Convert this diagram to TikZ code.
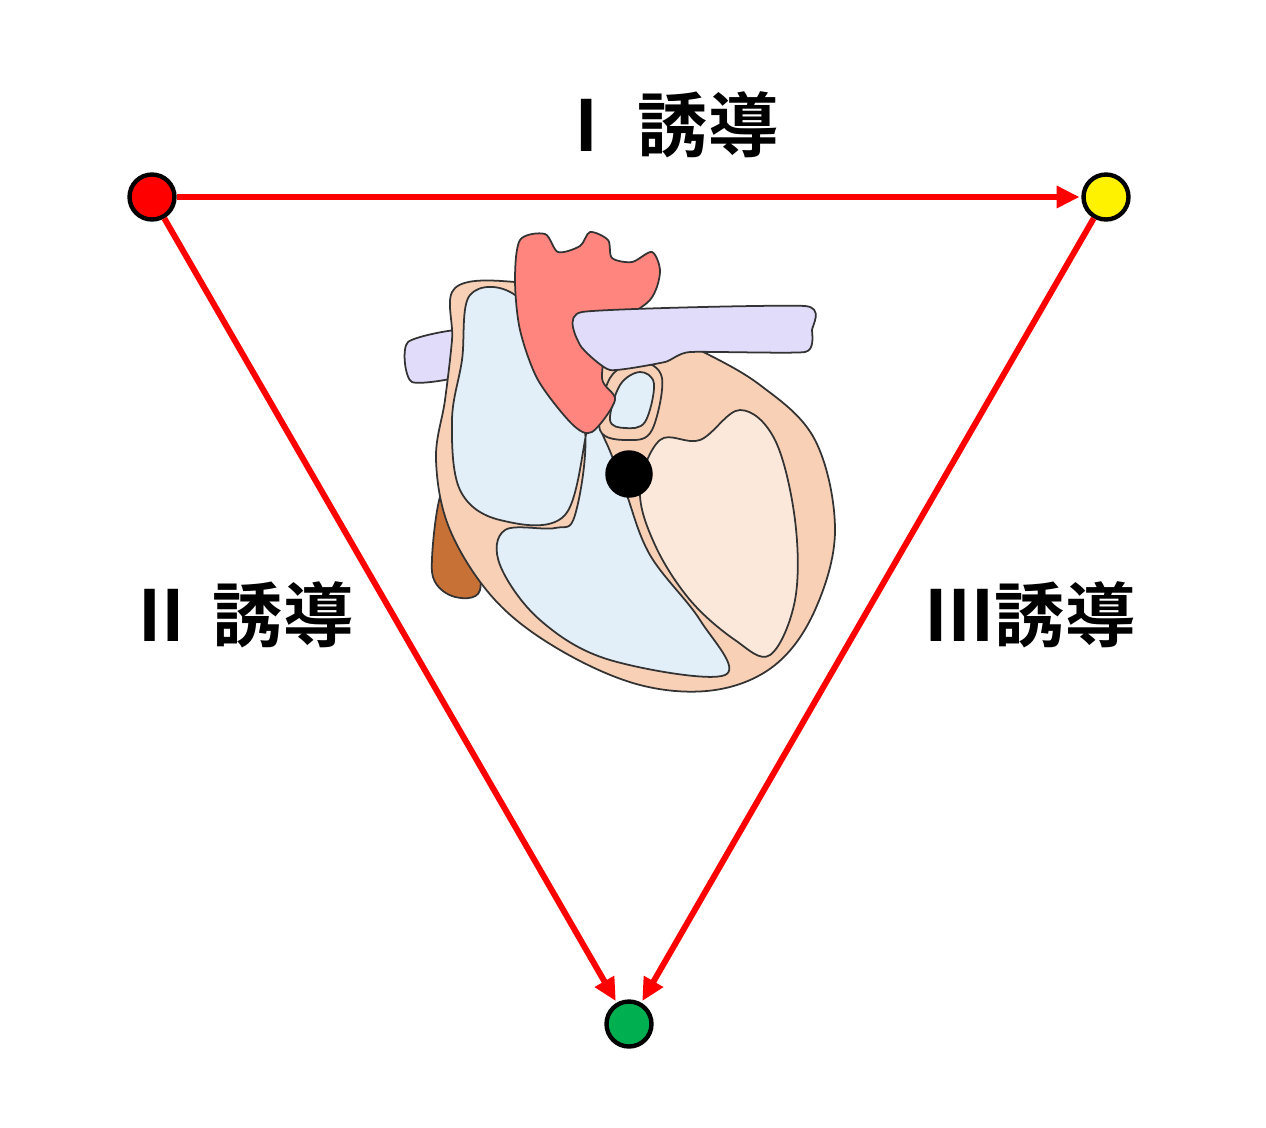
\documentclass[tikz,border=0pt]{standalone}
\usepackage{fontspec}
\newfontfamily\cjk{Noto Sans CJK JP}[BoldFont={* Bold}]
\usetikzlibrary{arrows.meta, positioning}

\definecolor{wall}{HTML}{F8D0B6}
\definecolor{rside}{HTML}{E2EEF8}
\definecolor{lside}{HTML}{FBE8DA}
\definecolor{aorta}{HTML}{FF857E}
\definecolor{pulm}{HTML}{E0DCFA}
\definecolor{vena}{HTML}{C87137}
\definecolor{elecG}{HTML}{00B050}

\begin{document}
\begin{tikzpicture}[
  x=0.02cm, y=-0.02cm,
  font=\cjk\bfseries\fontsize{40}{48}\selectfont,
  electrode/.style={draw=black, line width=2.5pt, circle, minimum size=0.9cm, inner sep=0pt},
  lead/.style={red, line width=3.4pt, arrows={-Triangle[length=13pt, width=12pt]}, shorten >=1pt},
  organ/.style={draw=black!80, line width=1pt}
]
\useasboundingbox (0,0) rectangle (1266,1127);

% heart, drawn back to front
\fill[organ, fill=vena] plot[smooth cycle, tension=0.5] coordinates {(442,492) (472,515) (480,590) (452,596) (432,572)};
\fill[organ, fill=pulm] plot[smooth cycle, tension=0.4] coordinates {(408,342) (470,330) (472,372) (412,382)};
\fill[organ, fill=wall] plot[smooth cycle, tension=0.6] coordinates {(455,288) (515,282) (600,300) (690,345) (760,385) (815,440) (835,530) (815,610) (775,665) (715,690) (640,685) (560,650) (495,600) (450,530) (436,460) (445,400) (452,340)};
\fill[organ, fill=rside] plot[smooth cycle, tension=0.6] coordinates {(470,295) (515,295) (560,360) (585,430) (575,515) (555,528) (505,530) (500,565) (540,620) (610,660) (725,675) (700,620) (650,555) (625,490) (605,440) (590,420) (565,515) (500,520) (460,490) (452,420) (462,360)};
\fill[organ, fill=lside] plot[smooth cycle, tension=0.6] coordinates {(640,490) (660,440) (700,440) (740,410) (775,440) (795,520) (795,600) (770,655) (735,640) (690,600) (655,545)};
\fill[organ, fill=wall] plot[smooth cycle, tension=0.6] coordinates {(610,378) (640,362) (662,378) (652,430) (630,440) (600,430)};
\fill[organ, fill=rside] plot[smooth cycle, tension=0.6] coordinates {(620,385) (640,372) (654,384) (645,422) (625,428) (610,420)};
\fill[organ, fill=aorta] plot[smooth cycle, tension=0.5] coordinates {(520,240) (545,234) (558,252) (580,246) (590,232) (608,240) (612,258) (632,262) (652,252) (660,272) (650,300) (612,330) (602,378) (615,400) (592,432) (572,424) (538,380) (520,330) (515,280)};
\fill[organ, fill=pulm] plot[smooth cycle, tension=0.3] coordinates {(582,312) (805,306) (812,330) (805,352) (690,352) (665,362) (610,370) (580,345)};

% electrodes
\node[electrode, fill=red] (ra) at (152,197) {};
\node[electrode, fill=yellow] (la) at (1106,197) {};
\node[electrode, fill=elecG] (ll) at (629,1024) {};
\node[circle, fill=black, minimum size=0.95cm, inner sep=0pt] (av) at (629,474) {};

% leads
\draw[lead] (ra) -- (la);
\draw[lead] (ra) -- (ll);
\draw[lead] (la) -- (ll);

% labels
\node (leadI) at (665,125) {Ⅰ 誘導};
\node (leadII) at (240,615) {Ⅱ 誘導};
\node (leadIII) at (1030,615) {Ⅲ誘導};
\end{tikzpicture}
\end{document}
